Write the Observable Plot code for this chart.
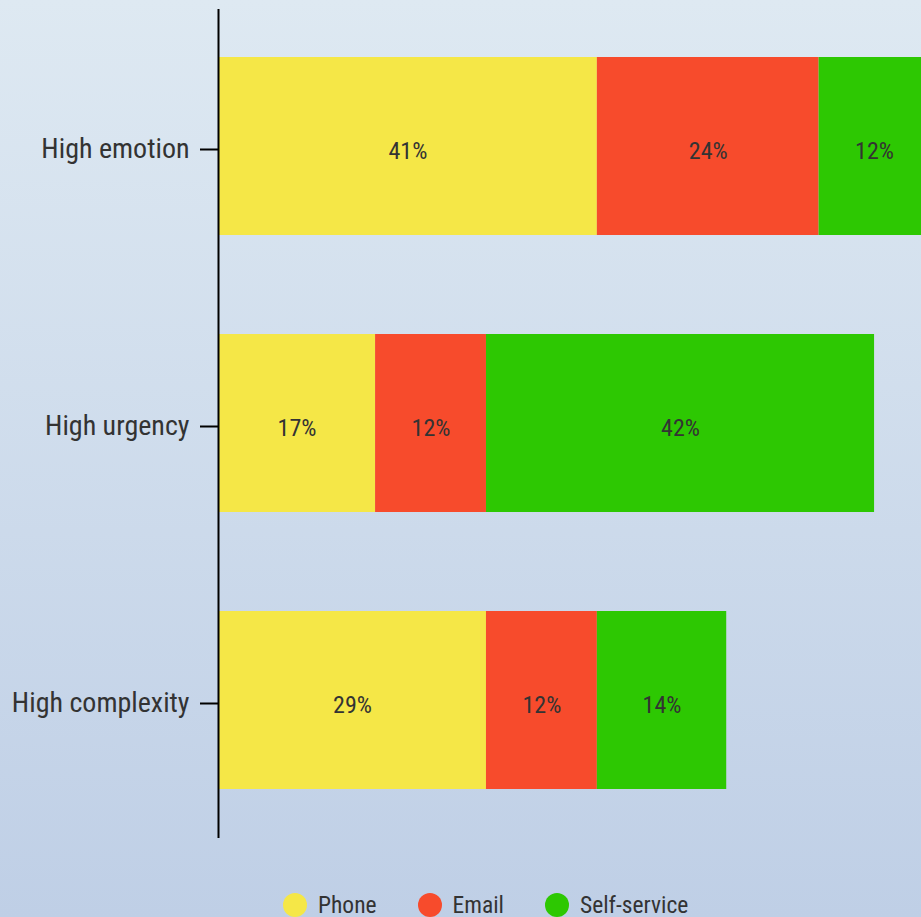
<!DOCTYPE html>
<html>
<head>
<meta charset="utf-8">
<script src="https://cdn.jsdelivr.net/npm/d3@7"></script>
<script src="https://cdn.jsdelivr.net/npm/@observablehq/plot@0.6"></script>
<style>
  html, body { margin: 0; padding: 0; }
  body {
    width: 921px; height: 917px; overflow: hidden;
    background: linear-gradient(to bottom, #dee9f2 0%, #bfcfe6 100%);
    font-family: Roboto, "Noto Sans", sans-serif;
    font-stretch: 85%;
  }
  svg text { font-stretch: 85%; }
  #legend {
    display: flex; align-items: center;
    margin-top: 13px; padding-left: 283px; height: 24px;
    font-size: 23.5px; color: #333;
  }
  .item { display: flex; align-items: center; margin-right: 41px; }
  .dot { width: 24px; height: 24px; border-radius: 50%; margin-right: 11px; }
</style>
</head>
<body>
<div id="chart"></div>
<div id="legend"></div>
<script>
const categories = ["High emotion", "High urgency", "High complexity"];
const series = ["Phone", "Email", "Self-service"];
const colors = ["#f5e747", "#f74b2c", "#2dc802"];
const phone = [41, 17, 29];
const email = [24, 12, 12];
const selfService = [12, 42, 14];

const valuesBySeries = [phone, email, selfService];
const data = [];
categories.forEach((c, i) => {
  series.forEach((s, j) => {
    data.push({category: c, channel: s, value: valuesBySeries[j][i]});
  });
});

const plot = Plot.plot({
  width: 921,
  height: 880,
  marginLeft: 218,
  marginRight: 0,
  marginTop: 9,
  marginBottom: 42,
  style: {background: "transparent", fontFamily: "Roboto, sans-serif", overflow: "hidden"},
  x: {domain: [0, 76.08], axis: null},
  y: {domain: categories, paddingInner: 0.3574, paddingOuter: 0.175, label: null},
  color: {domain: series, range: colors},
  marks: [
    Plot.barX(data, Plot.stackX({x: "value", y: "category", fill: "channel", clip: true})),
    Plot.textX(data, Plot.stackX({x: "value", y: "category", text: d => d.value + "%", fill: "#333", fontSize: 24, dy: 5})),
    Plot.ruleX([0], {stroke: "#000", strokeWidth: 2}),
    Plot.axisY({tickSize: 18, tickPadding: 11, fontSize: 28, color: "#333", stroke: "#000", strokeWidth: 2, label: null, dy: 3})
  ]
});
document.getElementById("chart").appendChild(plot);

const legend = document.getElementById("legend");
series.forEach((s, i) => {
  const item = document.createElement("div");
  item.className = "item";
  const dot = document.createElement("span");
  dot.className = "dot";
  dot.style.background = colors[i];
  const label = document.createElement("span");
  label.textContent = s;
  item.appendChild(dot);
  item.appendChild(label);
  legend.appendChild(item);
});
</script>
</body>
</html>
